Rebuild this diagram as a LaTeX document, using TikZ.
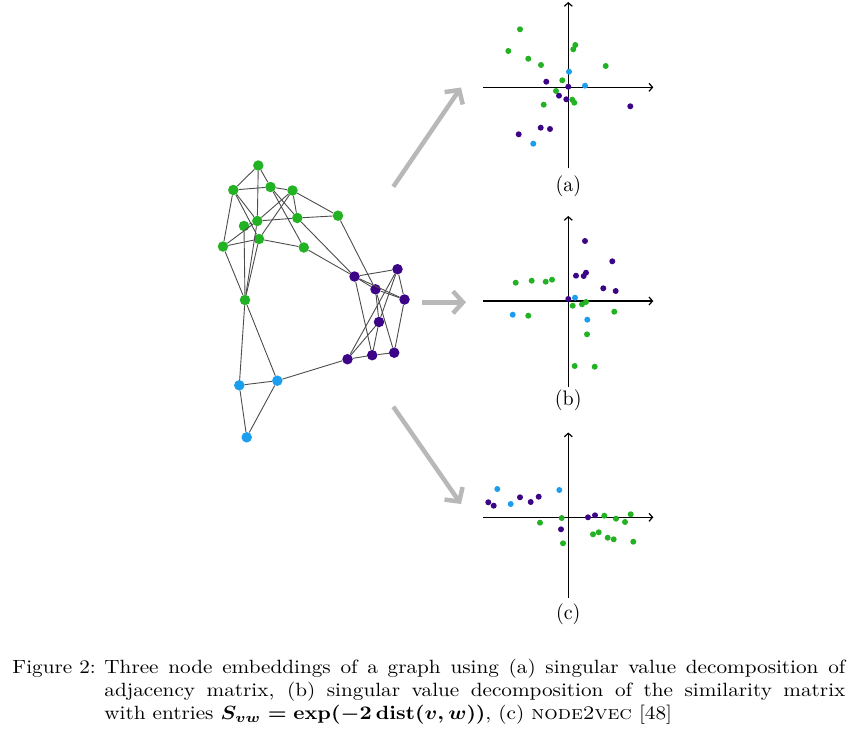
\documentclass[tikz,border=0pt]{standalone}
\usetikzlibrary{arrows.meta}
\definecolor{cg}{RGB}{35,178,35}
\definecolor{cb}{RGB}{28,158,238}
\definecolor{cp}{RGB}{60,5,135}
\definecolor{arr}{RGB}{184,184,184}
\begin{document}
\begin{tikzpicture}[x=1pt,y=-1pt,
 gn/.style={circle,inner sep=0pt,minimum size=10.5pt,fill=cg},
 bn/.style={gn,fill=cb},
 pn/.style={gn,fill=cp},
 edge/.style={draw=black!70,line width=0.9pt},
 bigarrow/.style={draw=arr,line width=4.5pt,-{Straight Barb[length=10pt,width=22pt]}},
 axis/.style={draw=black,line width=1.2pt,-{Straight Barb[length=3.5pt,width=8pt]}},
 lab/.style={font=\fontsize{10}{12}\selectfont,inner sep=0pt,transform shape,xscale=2.0,yscale=2.1}]
\useasboundingbox (0,0) rectangle (855,744);

% ---------- graph nodes ----------
\node[gn] (G1) at (258.3,165.5) {};
\node[gn] (G2) at (233.3,190) {};
\node[gn] (G3) at (270.5,187) {};
\node[gn] (G4) at (292.5,190.5) {};
\node[gn] (G5) at (257.3,221) {};
\node[gn] (G6) at (244,226) {};
\node[gn] (G7) at (297.3,218) {};
\node[gn] (G8) at (338,215.7) {};
\node[gn] (G9) at (223,246.5) {};
\node[gn] (G10) at (259,239) {};
\node[gn] (G11) at (303.8,247.5) {};
\node[gn] (G12) at (245,300) {};
\node[pn] (P1) at (354.5,276.5) {};
\node[pn] (P2) at (397.5,269.2) {};
\node[pn] (P3) at (375.5,289.3) {};
\node[pn] (P4) at (404.5,299.5) {};
\node[pn] (P5) at (379,322) {};
\node[pn] (P6) at (347.5,359.2) {};
\node[pn] (P7) at (372.2,355.2) {};
\node[pn] (P8) at (394.2,352.7) {};
\node[bn] (B1) at (239.3,385.3) {};
\node[bn] (B2) at (277.3,380.7) {};
\node[bn] (B3) at (246.7,437.3) {};

% ---------- graph edges ----------
\foreach \a/\b in {G1/G2,G1/G3,G1/G5,G2/G3,G3/G4,G2/G9,G2/G5,G2/G10,
  G3/G7,G3/G11,G4/G5,G4/G10,G4/G7,G4/G8,G5/G7,G5/G6,G9/G5,G9/G10,
  G9/G12,G6/G12,G10/G12,G5/G12,G10/G11,G7/G8,G7/P1,G11/P1,G8/P3,
  G12/B1,G12/B2,B1/B2,B1/B3,B2/B3,B2/P6,
  P1/P2,P1/P3,P1/P4,P1/P7,P3/P4,P3/P5,P3/P8,P2/P4,P2/P5,P2/P6,
  P4/P8,P5/P6,P5/P7,P6/P7,P7/P8}
  \draw[edge] (\a) -- (\b);

% ---------- big arrows ----------
\coordinate (a0) at (393.3,186.7); \coordinate (a1) at (461,87.5);
\coordinate (b0) at (421.7,302.3); \coordinate (b1) at (466,302.3);
\coordinate (c0) at (393.3,406.7); \coordinate (c1) at (461,504);
\draw[bigarrow] (a0) -- (a1);
\draw[bigarrow] (b0) -- (b1);
\draw[bigarrow] (c0) -- (c1);

% ---------- plot (a) ----------
\coordinate (aL) at (483.3,87.3); \coordinate (aR) at (653.3,87.3);
\coordinate (aB) at (568.3,168); \coordinate (aT) at (568.3,2);
\draw[axis] (aL) -- (aR);
\draw[axis] (aB) -- (aT);
\foreach \x/\y in {520/29.3,508.3/51,528.3/58.7,541/65,575.3/45,573.3/49.3,605.7/66,562.3/80.3,556/91,572.3/99.7,574.3/102.7,543.7/104.7}
  \fill[cg] (\x,\y) circle[radius=3pt];
\foreach \x/\y in {569/71.7,585/85.7,533.3/143.7}
  \fill[cb] (\x,\y) circle[radius=3pt];
\foreach \x/\y in {546.3/81.7,568.3/86.7,559/95.7,566.3/99.3,630.3/106.3,540.7/127.7,550/129,518.7/134.3}
  \fill[cp] (\x,\y) circle[radius=3pt];
\node[lab] (la) at (568.3,186.5) {(a)};

% ---------- plot (b) ----------
\coordinate (bL) at (483.3,301); \coordinate (bR) at (653.3,301);
\coordinate (bB) at (568.3,386.7); \coordinate (bT) at (568.3,216);
\draw[axis] (bL) -- (bR);
\draw[axis] (bB) -- (bT);
\foreach \x/\y in {515.7/282.7,531.7/280.7,545.7/281.7,552/279.7,528.3/315.7,572.7/305.7,582/304.3,586/302,614.3/311.7,587/334.3,574.7/366,594.7/366.7}
  \fill[cg] (\x,\y) circle[radius=3pt];
\foreach \x/\y in {575/297.7,512.7/314.7,587.3/319.7}
  \fill[cb] (\x,\y) circle[radius=3pt];
\foreach \x/\y in {585/241,612.3/261.3,586/272.7,583.7/276,576/275.7,603.3/288.3,615.7/291,568.3/299}
  \fill[cp] (\x,\y) circle[radius=3pt];
\node[lab] (lb) at (568.3,400) {(b)};

% ---------- plot (c) ----------
\coordinate (cL) at (483.3,517.3); \coordinate (cR) at (653.3,517.3);
\coordinate (cB) at (568.3,598); \coordinate (cT) at (568.3,432.5);
\draw[axis] (cL) -- (cR);
\draw[axis] (cB) -- (cT);
\foreach \x/\y in {540/522.7,561.7/518,563/543.3,604.3/515.7,616/518.7,625/522,630.7/514.3,593/534.3,598.7/532.3,607.7/537.7,613.7/539.3,633.3/541.7}
  \fill[cg] (\x,\y) circle[radius=3pt];
\foreach \x/\y in {497.3/489,559.3/490,510.7/504}
  \fill[cb] (\x,\y) circle[radius=3pt];
\foreach \x/\y in {488.3/502.3,493.7/505.7,520/497.3,530.7/502,538.7/496.7,561/529.3,588/517.3,595/515.3}
  \fill[cp] (\x,\y) circle[radius=3pt];
\node[lab] (lc) at (568.3,614) {(c)};

% ---------- caption ----------
\node[anchor=north west,inner sep=0pt,transform shape,xscale=2.12,yscale=1.917,
  text width=392.9pt,align=justify,font=\fontsize{10}{12}\selectfont] (cap) at (12,658.5)
  {\hangindent=43.4pt\hangafter=1\noindent\makebox[43.4pt][l]{Figure 2:}Three node embeddings of a graph using (a) singular value decomposition of\linebreak adjacency matrix, (b) singular value decomposition of the similarity matrix\linebreak with entries {\boldmath$S_{vw}=\exp(-2\,\mathrm{dist}(v,w))$}, (c) \textsc{node2vec} [48]\par};
\end{tikzpicture}
\end{document}
